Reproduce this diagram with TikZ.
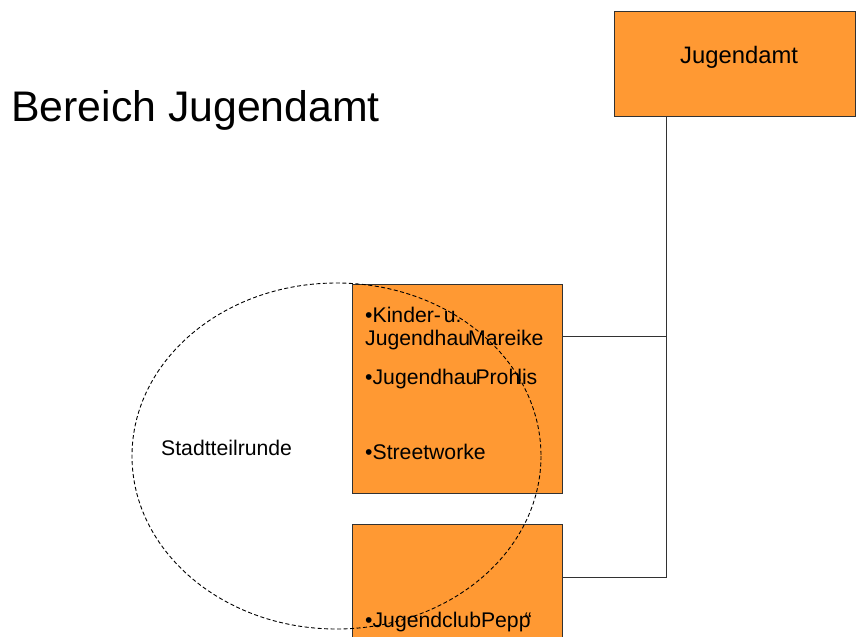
\documentclass[tikz,border=0pt]{standalone}
\usepackage{fontspec}
\setmainfont{Liberation Sans}
\usetikzlibrary{calc}
\definecolor{boxorange}{RGB}{255,153,51}
\definecolor{edgegray}{RGB}{50,50,50}
\tikzset{
  orgbox/.style={draw=edgegray, line width=1pt, fill=boxorange, rectangle, inner sep=0pt, anchor=north west},
  conn/.style={draw=edgegray, line width=1pt},
  txt/.style={inner sep=0pt, anchor=base west, font=\fontsize{21.2}{24}\selectfont},
  circ/.style={draw=black, line width=0.9pt, dash pattern=on 4pt off 2.5pt}
}
\begin{document}
\begin{tikzpicture}[x=1pt,y=-1pt]
\useasboundingbox (0,0) rectangle (860,637);
% boxes
\node[orgbox, minimum width=241pt, minimum height=105pt] (ja) at (614,11) {};
\node[txt, font=\fontsize{23.8}{26}\selectfont] (jat) at (680,63) {Jugendamt};
\node[orgbox, minimum width=210pt, minimum height=209pt] (b1) at (352,284) {};
\node[orgbox, minimum width=210pt, minimum height=125pt] (b2) at (352,524) {};
% texts in boxes
\node[txt] (t1) at (365,322) {•Kinder-\kern-3pt{} u.};
\node[txt] (t2) at (365,345) {Jugendhau\kern-2pt Mareike};
\node[txt] (t3) at (365,384) {•Jugendhau\kern-2pt Proh\kern-3pt lis};
\node[txt] (t4) at (365,459) {•Streetworke};
\node[txt] (t5) at (365,627) {•JugendclubPepp\kern-6pt“};
% connectors
\coordinate (j1) at ($(ja.south west)+(52,0)$);
\coordinate (e1) at ($(b1.north east)+(0,52)$);
\coordinate (e2) at ($(b2.north east)+(0,53)$);
\draw[conn] (j1) |- (e2);
\draw[conn] (e1) -- (e1 -| j1);
% ellipse
\coordinate (ec) at (336.5,456);
\draw[circ] (ec) ellipse [x radius=204.5, y radius=173];
\node[txt] (st) at (161,455) {Stadtteilrunde};
% title
\node[inner sep=0pt, anchor=base west, font=\fontsize{42.8}{48}\selectfont] (title) at (11,121) {Bereich Jugendamt};
\end{tikzpicture}
\end{document}
